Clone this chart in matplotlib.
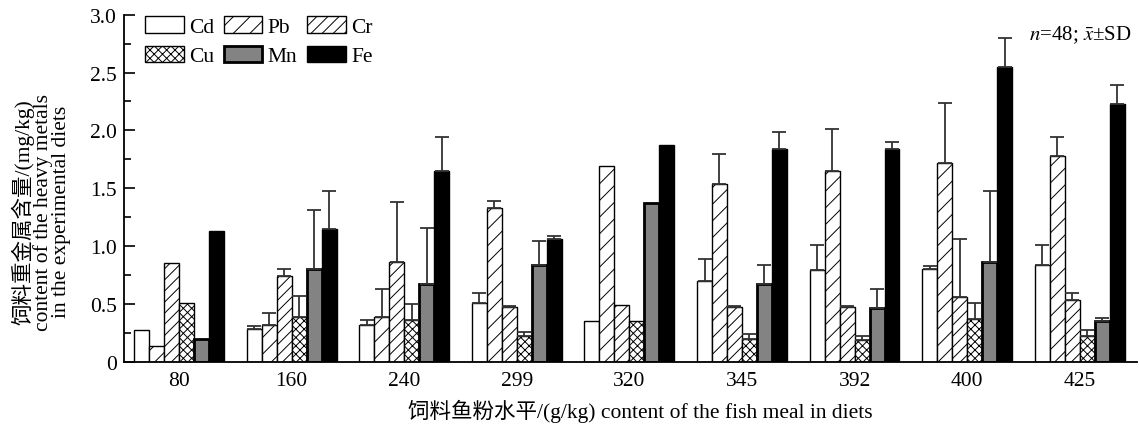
import numpy as np
import matplotlib
matplotlib.use('Agg')
import matplotlib.pyplot as plt

plt.rcParams['font.family'] = ['Liberation Serif', 'Noto Sans CJK SC']
plt.rcParams['mathtext.fontset'] = 'stix'
plt.rcParams['hatch.linewidth'] = 0.7

# fish meal levels (g/kg)
levels = ['80', '160', '240', '299', '320', '345', '392', '400', '425']
metals = ['Cd', 'Pb', 'Cr', 'Cu', 'Mn', 'Fe']

# mean contents (mg/kg)
cd = [0.27, 0.28, 0.32, 0.51, 0.35, 0.70, 0.79, 0.80, 0.84]
pb = [0.14, 0.32, 0.39, 1.33, 1.69, 1.54, 1.65, 1.72, 1.78]
cr = [0.85, 0.74, 0.86, 0.47, 0.49, 0.47, 0.47, 0.56, 0.53]
cu = [0.51, 0.39, 0.36, 0.22, 0.35, 0.20, 0.19, 0.37, 0.22]
mn = [0.20, 0.80, 0.67, 0.84, 1.37, 0.67, 0.46, 0.86, 0.35]
fe = [1.13, 1.15, 1.65, 1.06, 1.87, 1.84, 1.84, 2.55, 2.23]

# SD (upper error bars only)
cd_sd = [0.00, 0.03, 0.04, 0.08, 0.00, 0.19, 0.22, 0.03, 0.17]
pb_sd = [0.00, 0.10, 0.24, 0.06, 0.00, 0.26, 0.36, 0.52, 0.16]
cr_sd = [0.00, 0.06, 0.52, 0.01, 0.00, 0.01, 0.01, 0.50, 0.06]
cu_sd = [0.00, 0.18, 0.14, 0.04, 0.00, 0.04, 0.035, 0.14, 0.05]
mn_sd = [0.00, 0.51, 0.49, 0.20, 0.00, 0.17, 0.17, 0.62, 0.03]
fe_sd = [0.00, 0.33, 0.29, 0.03, 0.00, 0.15, 0.06, 0.25, 0.16]

means = [cd, pb, cr, cu, mn, fe]
sds = [cd_sd, pb_sd, cr_sd, cu_sd, mn_sd, fe_sd]
styles = [
    dict(color='white', edgecolor='black', linewidth=1.0),
    dict(color='white', edgecolor='black', linewidth=1.0, hatch='//'),
    dict(color='white', edgecolor='black', linewidth=1.0, hatch='///'),
    dict(color='white', edgecolor='black', linewidth=1.0, hatch='xxxx'),
    dict(color='#838383', edgecolor='black', linewidth=2.0),
    dict(color='black', edgecolor='black', linewidth=1.0),
]

fig = plt.figure(figsize=(11.39, 4.27), dpi=100)
ax = fig.add_axes([0.1089, 0.1506, 0.8891, 0.8126])

x = np.arange(len(levels))
w = 0.133
handles = []
for k in range(len(metals)):
    pos = x + (k - 2.5) * w
    b = ax.bar(pos, means[k], width=w, label=metals[k], zorder=2, **styles[k])
    handles.append(b)
    err = np.array(sds[k])
    has = err > 0
    ax.errorbar(pos[has], np.array(means[k])[has],
                yerr=[np.zeros(has.sum()), err[has]],
                fmt='none', ecolor='#333333', elinewidth=1.3,
                capsize=4.7, capthick=1.3, zorder=3)

ax.set_xlim(-0.488, 8.506)
ax.set_ylim(0, 3.0)
ax.set_xticks(x)
ax.set_xticklabels(levels)
ax.tick_params(axis='x', which='both', length=0, labelsize=15.5, pad=7)
ax.set_yticks([0, 0.5, 1.0, 1.5, 2.0, 2.5, 3.0])
ax.set_yticklabels(['0', '0.5', '1.0', '1.5', '2.0', '2.5', '3.0'])
ax.set_yticks(np.arange(0.25, 3.0, 0.5), minor=True)
ax.tick_params(axis='y', which='major', direction='in', length=8, width=1.2,
               labelsize=15.5, pad=5)
ax.tick_params(axis='y', which='minor', direction='in', length=5, width=1.2)

for s in ['top', 'right']:
    ax.spines[s].set_visible(False)
for s in ['left', 'bottom']:
    ax.spines[s].set_linewidth(1.3)

ax.set_xlabel('饲料鱼粉水平/(g/kg) content of the fish meal in diets', fontsize=15.5)
ax.xaxis.set_label_coords(0.510, -0.107)
ax.set_ylabel('饲料重金属含量/(mg/kg)\ncontent of the heavy metals\nin the experimental diets',
              fontsize=15.5, linespacing=0.93)
ax.yaxis.set_label_coords(-0.052, 0.434)

# row-major legend: Cd Pb Cr / Cu Mn Fe
order = [0, 3, 1, 4, 2, 5]
ax.legend([handles[i] for i in order], [metals[i] for i in order],
          loc='upper left', bbox_to_anchor=(0.012, 1.02), ncol=3, frameon=False,
          fontsize=15.5, handlelength=1.8, handleheight=0.8, handletextpad=0.25,
          columnspacing=0.45, labelspacing=0.4, borderaxespad=0)

ax.text(0.995, 0.945, r'$\mathit{n}$=48; $\bar{\mathit{x}}$±SD', transform=ax.transAxes,
        ha='right', va='center', fontsize=15)

fig.savefig('out.png', dpi=100)
